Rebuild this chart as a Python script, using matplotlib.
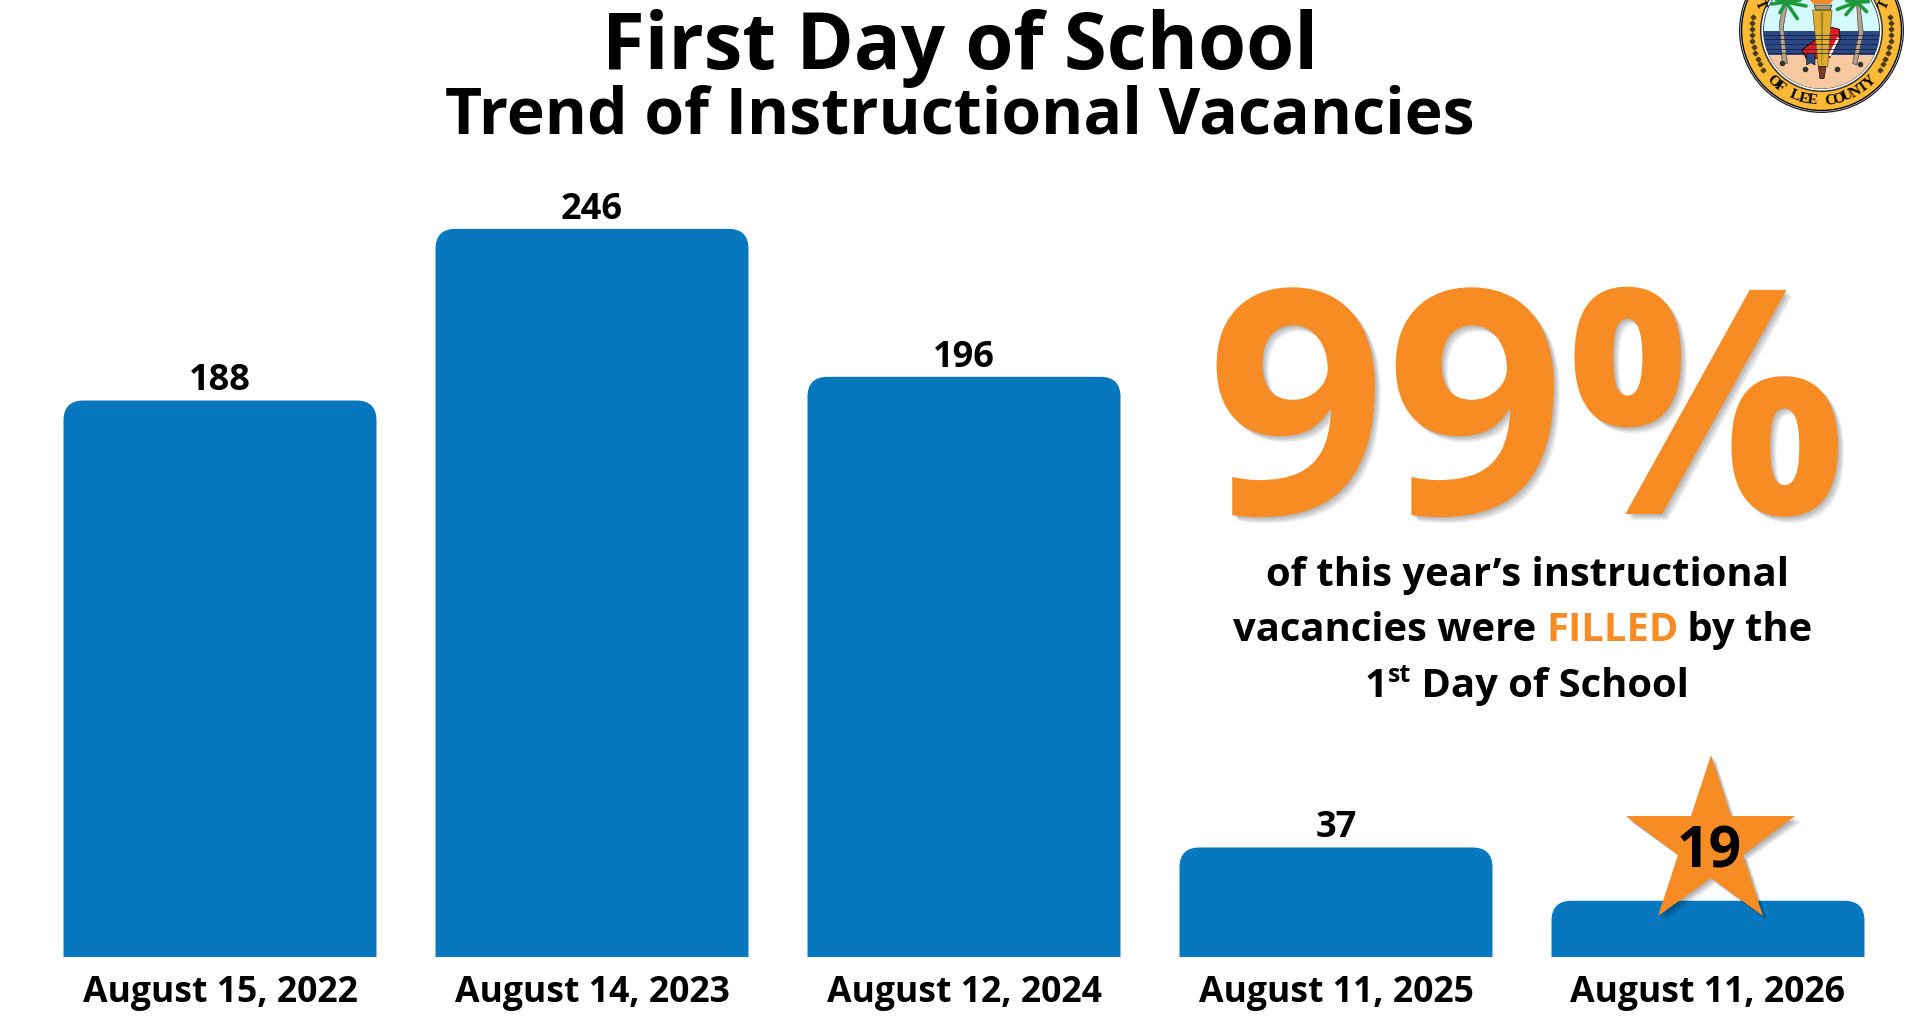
import numpy as np
import matplotlib
matplotlib.use('Agg')
import matplotlib.pyplot as plt
import matplotlib.patheffects as pe
from matplotlib.patches import Circle, Polygon, PathPatch
from matplotlib.path import Path

# values
dates = ['August 15, 2022', 'August 14, 2023', 'August 12, 2024', 'August 11, 2025', 'August 11, 2026']
vacancies = [188, 246, 196, 37, 19]
title = 'First Day of School'
subtitle = 'Trend of Instructional Vacancies'
big_number = '99%'

BLUE = '#0878BE'
ORANGE = '#F78B24'

plt.rcParams['font.family'] = ['Open Sans', 'DejaVu Sans']
plt.rcParams['font.weight'] = 'bold'

fig = plt.figure(figsize=(19.2, 10.24), dpi=100)
fig.patch.set_facecolor('white')

# main axes: y=0 sits on the bar baseline, 2.96 px per vacancy
base_px = 957
ax = fig.add_axes([0, (1024 - base_px) / 1024, 1, base_px / 1024])
ax.set_xlim(-220 / 372, (1920 - 220) / 372)
ax.set_ylim(0, base_px / 2.96)
ax.patch.set_alpha(0)
for s in ax.spines.values():
    s.set_visible(False)
ax.set_yticks([])
x = np.arange(len(dates))
ax.set_xticks(x)
ax.set_xticklabels(dates, fontsize=25.7, fontweight='bold')
ax.tick_params(axis='x', length=0, pad=13)


def rounded_path(left, width, height, rx, ry):
    # bar with the two top corners rounded
    right = left + width
    verts = [(left, 0), (left, height - ry), (left, height), (left + rx, height),
             (right - rx, height), (right, height), (right, height - ry), (right, 0), (left, 0)]
    codes = [Path.MOVETO, Path.LINETO, Path.CURVE3, Path.CURVE3,
             Path.LINETO, Path.CURVE3, Path.CURVE3, Path.LINETO, Path.CLOSEPOLY]
    return Path(verts, codes)


bars = ax.bar(x, vacancies, width=313 / 372, color=BLUE)
for b, v in zip(bars, vacancies):
    b.set_visible(False)
    ax.add_patch(PathPatch(rounded_path(b.get_x(), b.get_width(), v, 20 / 372, 20 / 2.96),
                           facecolor=BLUE, edgecolor='none', zorder=2))
    if v != 19:
        ax.annotate(str(v), (b.get_x() + b.get_width() / 2, v), xytext=(0, 0.8),
                    textcoords='offset points', ha='center', va='bottom',
                    fontsize=26, fontweight='bold', color='black')


def soft_shadow(offset, n=5, alpha=0.07):
    fx = [pe.SimplePatchShadow(offset=(offset * i / n, -offset * i / n), shadow_rgbFace='black', alpha=alpha)
          for i in range(n, 0, -1)]
    return fx + [pe.Normal()]


# star behind the 19, centred on the last bar
star_y = (base_px - 844) / 2.96
ax.plot([x[-1] + 0.007], [star_y], marker='*', markersize=178 * 0.72, color=ORANGE,
        markeredgecolor='none', zorder=3, path_effects=soft_shadow(4))
ax.text(x[-1] + 0.003, (base_px - 853) / 2.96, str(vacancies[-1]), ha='center', va='center',
        fontsize=41, fontweight='bold', color='black', zorder=4)

# overlay in pixel coordinates for title, callout and seal
pix = fig.add_axes([0, 0, 1, 1])
pix.set_xlim(0, 1920)
pix.set_ylim(1024, 0)
pix.axis('off')
pix.patch.set_alpha(0)

pix.text(960, 69, title, ha='center', va='baseline', fontsize=56, fontweight='bold', color='black')
pix.text(960, 134, subtitle, ha='center', va='baseline', fontsize=46.3, fontweight='bold', color='black')

pix.text(1527, 514, big_number, ha='center', va='baseline', fontsize=226, fontweight='bold',
         color=ORANGE, path_effects=soft_shadow(4.5, n=6, alpha=0.05))

renderer = fig.canvas.get_renderer()


def text_width(s, size):
    # measured with a sentinel so trailing spaces count
    a = pix.text(0, 0, s + '.', fontsize=size, fontweight='bold')
    b = pix.text(0, 0, '.', fontsize=size, fontweight='bold')
    w = a.get_window_extent(renderer).width - b.get_window_extent(renderer).width
    a.remove()
    b.remove()
    return w


def mixed_line(parts, center, y, size=28.8):
    total = sum(text_width(p[0], p[2] if len(p) > 2 else size) for p in parts)
    cur = center - total / 2
    for p in parts:
        s = p[2] if len(p) > 2 else size
        dy = p[3] if len(p) > 3 else 0
        pix.text(cur, y + dy, p[0], ha='left', va='baseline', fontsize=s, fontweight='bold', color=p[1])
        cur += text_width(p[0], s)


mixed_line([('of this year\u2019s instructional', 'black')], 1527, 586)
mixed_line([('vacancies were ', 'black'), ('FILLED', ORANGE), (' by the', 'black')], 1522.5, 641)
mixed_line([('1', 'black'), ('st', 'black', 18, -15), (' Day of School', 'black')], 1527, 697)

# district seal, cut off by the top edge
cx, cy = 1821.5, 30.5


def z(px, py):
    return (1700 + px / 3, py / 3)


pix.add_patch(Circle((cx, cy), 82.5, fc='#222222', ec='none'))
pix.add_patch(Circle((cx, cy), 81.2, fc='white', ec='none'))
pix.add_patch(Circle((cx, cy), 80, fc='#FBB936', ec='black', lw=1))
pix.add_patch(Circle((cx, cy), 61.5, fc='#333333', ec='none'))
pix.add_patch(Circle((cx, cy), 60, fc='white', ec='none'))
inner = Circle((cx, cy), 58, fc='#D2FAFF', ec='#333333', lw=0.6)
pix.add_patch(inner)


def clipped(patch):
    pix.add_patch(patch)
    patch.set_clip_path(inner)
    return patch


clipped(Polygon([z(170, 92), z(560, 92), z(560, 166), z(170, 166)], fc='#2C4786', ec='none'))
for ly in (104, 118, 132, 146, 158):
    pix.plot([1756, 1887], [ly / 3, ly / 3], color='#101830', lw=0.5, clip_path=inner)
clipped(Polygon([z(170, 166), z(560, 166), z(560, 300), z(170, 300)], fc='#F8C8A0', ec='none'))

# palm trunks and fronds
clipped(Polygon([z(238, 70), z(250, 15), z(262, 15), z(250, 80), z(262, 190), z(247, 190)], fc='#B8A48C', ec='#444444', lw=0.5))
clipped(Polygon([z(470, 15), z(480, 15), z(490, 100), z(470, 195), z(458, 190), z(476, 100)], fc='#B8A48C', ec='#444444', lw=0.5))
for fx_, fy_ in [(215, 12), (240, 38), (292, 56), (318, 18), (300, 0), (230, 0)]:
    pix.plot(*zip(z(258, 6), z(fx_, fy_)), color='#1E9A3C', lw=2.6, solid_capstyle='round', clip_path=inner)
for fx_, fy_ in [(412, 28), (438, 44), (500, 35), (505, 5), (440, 2)]:
    pix.plot(*zip(z(470, 6), z(fx_, fy_)), color='#1E9A3C', lw=2.6, solid_capstyle='round', clip_path=inner)

# book
clipped(Polygon([z(306, 150), z(395, 82), z(418, 88), z(420, 118), z(390, 172), z(320, 178)], fc='#E01B22', ec='black', lw=0.6))
clipped(Polygon([z(385, 165), z(412, 112), z(418, 116), z(392, 170)], fc='white', ec='none'))
clipped(Polygon([z(320, 160), z(345, 160), z(345, 195), z(332, 188), z(320, 195)], fc='#2C4786', ec='black', lw=0.4))

# torch
clipped(Polygon([z(338, 30), z(396, 30), z(383, 200), z(355, 200)], fc='#DDAE32', ec='#6B5210', lw=0.5))
clipped(Polygon([z(362, 35), z(370, 35), z(367, 195), z(364, 195)], fc='#A5831E', ec='none'))
clipped(Polygon([z(342, 15), z(396, 15), z(390, 30), z(348, 30)], fc='#A89C70', ec='black', lw=0.4))
clipped(Polygon([z(330, 0), z(400, 0), z(390, 12), z(340, 12)], fc='#F08A24', ec='none'))
clipped(Polygon([z(355, 200), z(378, 200), z(372, 236), z(360, 236)], fc='#7A3A2A', ec='black', lw=0.4))

# shells on the sand are just dark blobs
for bx, by in [(245, 190), (315, 208), (412, 208), (480, 192)]:
    pix.plot(*z(bx, by), marker='o', markersize=3, color='#333333', clip_path=inner)

# ring lettering
seal_text = 'OF LEE COUNTY'
angles = np.linspace(-44, 44, len(seal_text))
for ch, a in zip(seal_text, angles):
    t = np.radians(a)
    pix.text(cx + 70.5 * np.sin(t), cy + 70.5 * np.cos(t), ch, fontsize=11, family='Liberation Serif',
             fontweight='bold', ha='center', va='center', rotation=a, color='black')
pix.text(*z(180, 14), 'T', fontsize=10, family='Liberation Serif', fontweight='bold', ha='center', va='center', rotation=-65)
pix.text(*z(554, 14), 'T', fontsize=10, family='Liberation Serif', fontweight='bold', ha='center', va='center', rotation=65)

# laurel sprigs on the ring
for a in np.arange(56, 104, 5):
    for sign in (-1, 1):
        t = np.radians(sign * a)
        pix.plot(cx + 70 * np.sin(t), cy + 70 * np.cos(t), marker='D', markersize=2.4, color='#4A3C14')

fig.savefig('out.png', dpi=100)
